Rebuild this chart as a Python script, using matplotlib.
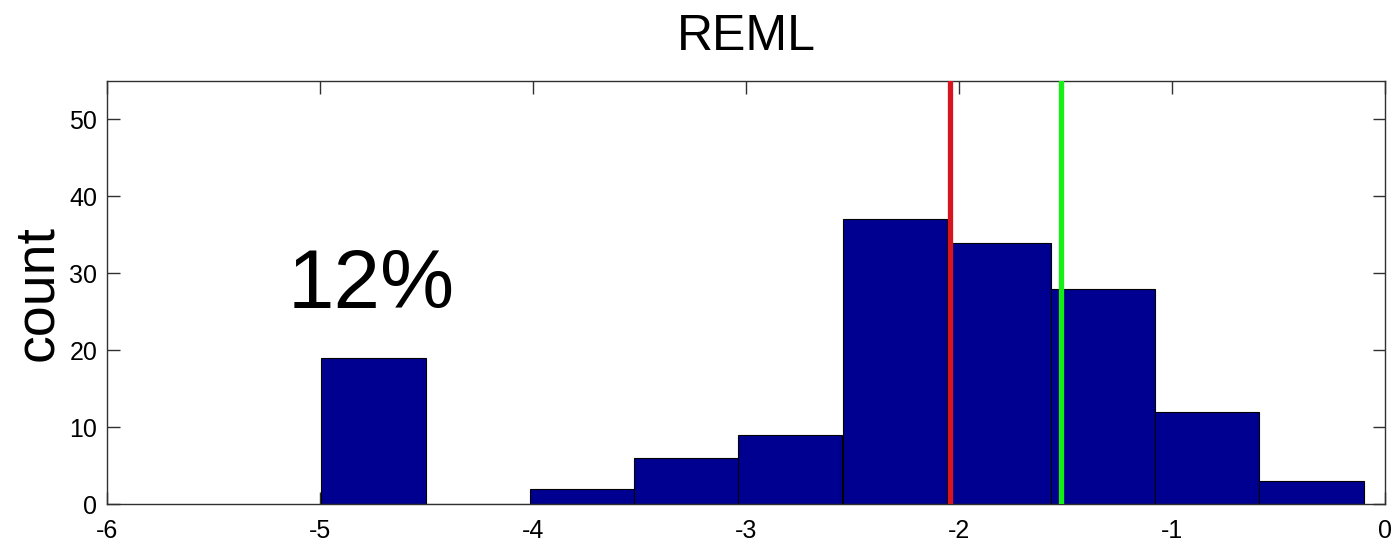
import matplotlib.pyplot as plt

plt.rcParams['font.family'] = ['Liberation Sans', 'DejaVu Sans']
plt.rcParams['axes.unicode_minus'] = False

# histogram bin centres and counts
bin_centers = [-4.749, -4.260, -3.770, -3.281, -2.792, -2.302, -1.813, -1.324, -0.834, -0.345]
counts = [19, 0, 2, 6, 9, 37, 34, 28, 12, 3]
bin_width = 0.4894

# reference estimates marked on the histogram
red_x = -2.042
green_x = -1.521

fig = plt.figure(figsize=(13.97, 5.45), dpi=100)
ax = fig.add_axes([0.0766, 0.0752, 0.9148, 0.7762])

ax.bar(bin_centers, counts, width=bin_width, color='#000090',
       edgecolor='black', linewidth=0.8, zorder=2)
ax.axvline(red_x, color='#d8141e', linewidth=3.8, zorder=3)
ax.axvline(green_x, color='#14f014', linewidth=3.8, zorder=3)

ax.set_xlim(-6, 0)
ax.set_ylim(0, 55)
ax.set_xticks(range(-6, 1))
ax.set_yticks(range(0, 51, 10))
ax.tick_params(direction='in', length=9, width=1, top=True, right=True,
               labelsize=18, color='#303030')
ax.tick_params(axis='x', pad=11)
ax.tick_params(axis='y', pad=7)
for s in ax.spines.values():
    s.set_color('#303030')
    s.set_linewidth(1)

ax.set_ylabel('count', fontsize=40, labelpad=4)
ax.set_title('REML', fontsize=36, pad=22)
ax.text(-5.15, 25.5, '12%', fontsize=60)

fig.savefig('out.png', dpi=100)
